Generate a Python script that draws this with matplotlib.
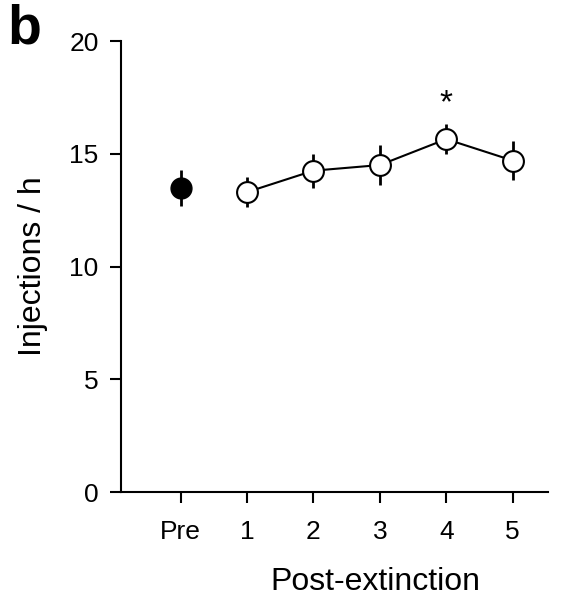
import matplotlib
matplotlib.use("Agg")
import matplotlib.pyplot as plt

plt.rcParams['font.family'] = ['Liberation Sans', 'DejaVu Sans']

# Data
labels = ['Pre', '1', '2', '3', '4', '5']
pre_mean = 13.5
pre_err = 0.8
post_days = [1, 2, 3, 4, 5]
post_mean = [13.3, 14.25, 14.5, 15.65, 14.7]
post_err = [0.65, 0.75, 0.9, 0.65, 0.85]
star_day = 4
star_y = 17.2

fig = plt.figure(figsize=(5.73, 6.03), dpi=100)
ax = fig.add_axes([0.211, 0.184, 0.745, 0.748])

# Pre point (filled)
ax.errorbar([0], [pre_mean], yerr=[pre_err], fmt='o', color='black',
            markersize=15, markerfacecolor='black', markeredgecolor='black',
            elinewidth=2, capsize=0, zorder=3)

# Post-extinction points (open)
ax.errorbar(post_days, post_mean, yerr=post_err, fmt='-o', color='black',
            markersize=15, markerfacecolor='white', markeredgecolor='black',
            markeredgewidth=1.5, linewidth=1.5, elinewidth=2, capsize=0, zorder=3)

ax.text(star_day, star_y, '*', ha='center', va='center', fontsize=24)

ax.set_xlim(-0.9, 5.53)
ax.set_ylim(0, 20)
ax.set_xticks(range(len(labels)))
ax.set_xticklabels(labels)
ax.set_yticks([0, 5, 10, 15, 20])

for s in ['top', 'right']:
    ax.spines[s].set_visible(False)
for s in ['left', 'bottom']:
    ax.spines[s].set_linewidth(1.5)
ax.tick_params(direction='out', length=8, width=1.5, labelsize=19)
ax.tick_params(axis='x', pad=12)
ax.tick_params(axis='y', pad=8)

ax.set_ylabel('Injections / h', fontsize=23, labelpad=15)
ax.set_xlabel('Post-extinction', fontsize=23, labelpad=17, x=0.597)

fig.text(0.012, 0.995, 'b', fontsize=40, fontweight='bold', va='top', ha='left')

fig.savefig('out.png', dpi=100)
